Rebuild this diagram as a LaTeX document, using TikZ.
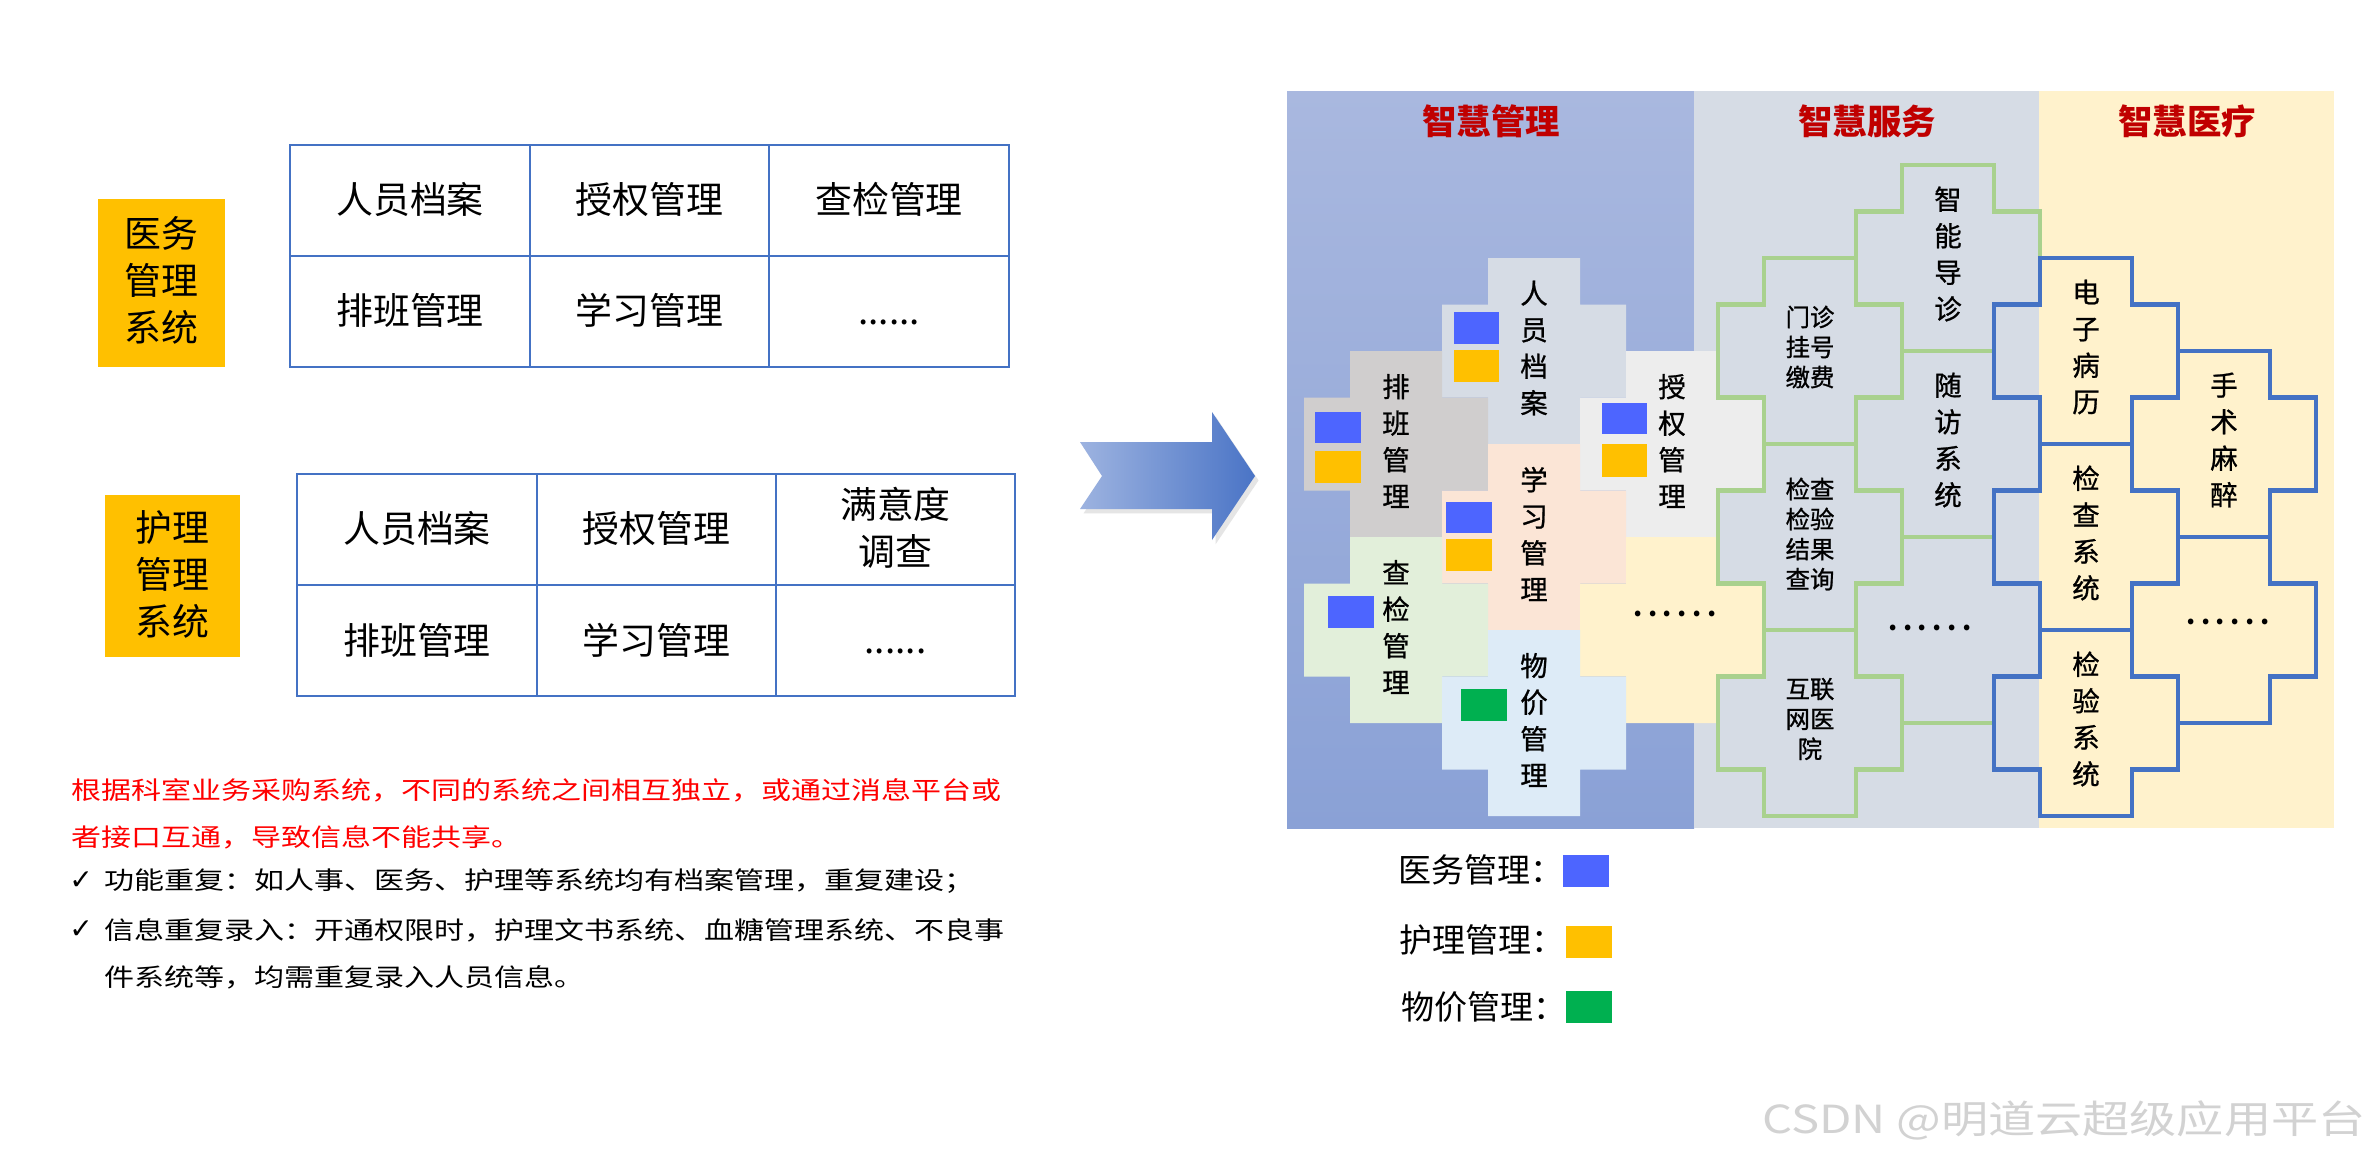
\documentclass[tikz,border=0pt]{standalone}
\usepackage{fontspec}
\setmainfont{Noto Sans CJK SC}
\newfontfamily\cjkw[FakeStretch=1.22]{Noto Sans CJK SC}
\newfontfamily\cjkb[FakeBold=0.9]{Noto Sans CJK SC}
\newfontfamily\symf{DejaVu Sans}
\usetikzlibrary{shadows}
\definecolor{orangebox}{HTML}{FFC000}
\definecolor{tblline}{HTML}{4472C4}
\definecolor{colAtop}{HTML}{A9B8DF}
\definecolor{colAbot}{HTML}{8AA1D6}
\definecolor{colB}{HTML}{D6DCE5}
\definecolor{colC}{HTML}{FFF2CC}
\definecolor{cRY}{HTML}{D6DCE5}
\definecolor{cPB}{HTML}{D0CECE}
\definecolor{cSQ}{HTML}{EDEDED}
\definecolor{cXX}{HTML}{FBE5D6}
\definecolor{cCJ}{HTML}{E2EFDA}
\definecolor{cWJ}{HTML}{DDEBF7}
\definecolor{cDT}{HTML}{FFF2CC}
\definecolor{lnGreen}{HTML}{A9D18E}
\definecolor{lnBlue}{HTML}{4472C4}
\definecolor{icBlue}{HTML}{4D65FF}
\definecolor{icOrange}{HTML}{FFC000}
\definecolor{icGreen}{HTML}{00B050}
\definecolor{headRed}{HTML}{C00000}
\definecolor{arrL}{HTML}{9DB3E0}
\definecolor{arrR}{HTML}{4A74C6}
\definecolor{wmGray}{HTML}{D2D2D2}
\newcommand\plusat[3]{\path[#3,shift={(#1,#2)}] (46,0) -- (138,0) -- (138,46.5) -- (184,46.5) -- (184,139.5) -- (138,139.5) -- (138,186) -- (46,186) -- (46,139.5) -- (0,139.5) -- (0,46.5) -- (46,46.5) -- cycle;}
\newcommand\sixdots{.\kern3.2pt.\kern3.2pt.\kern3.2pt.\kern3.2pt.\kern3.2pt.}
\tikzset{
  boxtext/.style={font=\fontsize{21pt}{26.75pt}\selectfont, align=center, inner sep=0pt},
  tcell/.style={font=\fontsize{21pt}{26.75pt}\selectfont, align=center, inner sep=0pt},
  tbl/.style={draw=tblline, line width=1.1pt},
  para/.style={font=\cjkw\fontsize{14pt}{17pt}\selectfont, anchor=west, inner sep=0pt},
  chk/.style={font=\symf\fontsize{16pt}{18pt}\selectfont, anchor=west, inner sep=0pt},
  head/.style={font=\bfseries\fontsize{19.6pt}{24pt}\selectfont, text=headRed, inner sep=0pt},
  vt/.style={font=\cjkb\fontsize{15.6pt}{20.8pt}\selectfont, align=center, inner sep=0pt},
  vtb/.style={font=\cjkb\fontsize{13.9pt}{17.1pt}\selectfont, align=center, inner sep=0pt},
  dots/.style={font=\bfseries\fontsize{15pt}{18pt}\selectfont, inner sep=0pt},
  greenx/.style={draw=lnGreen, line width=2.8pt},
  bluex/.style={draw=lnBlue, line width=2.8pt},
  leg/.style={font=\fontsize{18.8pt}{22pt}\selectfont, anchor=west, inner sep=0pt},
  wm/.style={font=\cjkw\fontsize{22pt}{26pt}\selectfont, text=wmGray, anchor=east, inner sep=0pt}
}
\begin{document}
\begin{tikzpicture}[x=0.02cm,y=-0.02cm]
\useasboundingbox (0,0) rectangle (2374,1156);
\fill[white] (0,0) rectangle (2374,1156);

% ---------- left: two systems ----------
\fill[orangebox] (98,199) rectangle (225,367);
\node[boxtext] (ywbox) at (161.5,280) {医务\\管理\\系统};
\draw[tbl] (290,145) rectangle (1009,367) (530,145) -- (530,367) (769,145) -- (769,367) (290,256) -- (1009,256);
\node[tcell] (ta1) at (410,199) {人员档案};
\node[tcell] (ta2) at (649.5,199) {授权管理};
\node[tcell] (ta3) at (889,199) {查检管理};
\node[tcell] (ta4) at (410,310) {排班管理};
\node[tcell] (ta5) at (649.5,310) {学习管理};
\node[tcell, anchor=base] (ta6) at (889,324) {......};

\fill[orangebox] (105,495) rectangle (240,657);
\node[boxtext] (hlbox) at (172.5,574) {护理\\管理\\系统};
\draw[tbl] (297,474) rectangle (1015,696) (537,474) -- (537,696) (776,474) -- (776,696) (297,585) -- (1015,585);
\node[tcell] (tb1) at (417,528) {人员档案};
\node[tcell] (tb2) at (656.5,528) {授权管理};
\node[tcell] (tb3) at (895.5,528) {满意度\\调查};
\node[tcell] (tb4) at (417,640) {排班管理};
\node[tcell] (tb5) at (656.5,640) {学习管理};
\node[tcell, anchor=base] (tb6) at (895.5,653) {......};

% ---------- paragraph ----------
\node[para, text=red] (p1) at (71,790) {根据科室业务采购系统，不同的系统之间相互独立，或通过消息平台或};
\node[para, text=red] (p2) at (71,837) {者接口互通，导致信息不能共享。};
\node[chk] (k1) at (69,881) {✓};
\node[para] (p3) at (104,881) {功能重复：如人事、医务、护理等系统均有档案管理，重复建设；};
\node[chk] (k2) at (69,930) {✓};
\node[para] (p4) at (104,930) {信息重复录入：开通权限时，护理文书系统、血糖管理系统、不良事};
\node[para] (p5) at (104,977) {件系统等，均需重复录入人员信息。};

% ---------- arrow ----------
\path[left color=arrL, right color=arrR, drop shadow={shadow xshift=2pt, shadow yshift=-2.5pt, opacity=0.25, fill=black!40}]
  (1080,442) -- (1212,442) -- (1212,412) -- (1255,476) -- (1212,540) -- (1212,509) -- (1080,509) -- (1102,476) -- cycle;

% ---------- right panel backgrounds ----------
\shade[top color=colAtop, bottom color=colAbot] (1287,91) rectangle (1694,828);
\fill[colB] (1694,91) rectangle (2039,828);
\fill[colC] (2039,91) rectangle (2334,828);
\node[head] (h1) at (1491,121) {智慧管理};
\node[head] (h2) at (1867,121) {智慧服务};
\node[head] (h3) at (2187,121) {智慧医疗};

% ---------- column 1 filled crosses ----------
\plusat{1442}{258}{fill=cRY}
\plusat{1304}{351}{fill=cPB}
\plusat{1580}{351}{fill=cSQ}
\plusat{1442}{444}{fill=cXX}
\plusat{1304}{537}{fill=cCJ}
\plusat{1580}{537}{fill=cDT}
\plusat{1442}{630}{fill=cWJ}

% ---------- column 2 green crosses ----------
\plusat{1718}{258}{greenx}
\plusat{1856}{165}{greenx}
\plusat{1856}{351}{greenx}
\plusat{1718}{444}{greenx}
\plusat{1856}{537}{greenx}
\plusat{1718}{630}{greenx}

% ---------- column 3 blue crosses ----------
\plusat{1994}{258}{bluex}
\plusat{2132}{351}{bluex}
\plusat{1994}{444}{bluex}
\plusat{2132}{537}{bluex}
\plusat{1994}{630}{bluex}

% ---------- icons ----------
\fill[icBlue] (1454,312) rectangle (1499,344);
\fill[icOrange] (1454,350) rectangle (1499,382);
\fill[icBlue] (1315,412) rectangle (1361,443);
\fill[icOrange] (1315,451) rectangle (1361,483);
\fill[icBlue] (1602,403) rectangle (1647,434);
\fill[icOrange] (1602,444) rectangle (1647,477);
\fill[icBlue] (1446,502) rectangle (1492,533);
\fill[icOrange] (1446,539) rectangle (1492,571);
\fill[icBlue] (1328,596) rectangle (1374,628);
\fill[icGreen] (1461,689) rectangle (1507,721);

% ---------- cross texts ----------
\node[vt] (ry) at (1534,348) {人\\员\\档\\案};
\node[vt] (pb) at (1396,441) {排\\班\\管\\理};
\node[vt] (sq) at (1672,441) {授\\权\\管\\理};
\node[vt] (xx) at (1534,534) {学\\习\\管\\理};
\node[vt] (cj) at (1396,627) {查\\检\\管\\理};
\node[dots] (d1) at (1675,614) {\sixdots};
\node[vt] (wj) at (1534,720) {物\\价\\管\\理};

\node[vtb] (mz) at (1810,347) {门诊\\挂号\\缴费};
\node[vt] (zn) at (1948,254) {智\\能\\导\\诊};
\node[vt] (sf) at (1948,440) {随\\访\\系\\统};
\node[vtb] (jc) at (1810,534) {检查\\检验\\结果\\查询};
\node[dots] (d2) at (1930,628) {\sixdots};
\node[vtb] (hl) at (1810,719) {互联\\网医\\院};

\node[vt] (dz) at (2086,347) {电\\子\\病\\历};
\node[vt] (ss) at (2224,440) {手\\术\\麻\\醉};
\node[vt] (jcx) at (2086,533) {检\\查\\系\\统};
\node[dots] (d3) at (2228,622) {\sixdots};
\node[vt] (jyx) at (2086,719) {检\\验\\系\\统};

% ---------- legend ----------
\node[leg] (lg1) at (1398,870) {医务管理：};
\fill[icBlue] (1563,855) rectangle (1609,887);
\node[leg] (lg2) at (1399,940) {护理管理：};
\fill[icOrange] (1566,926) rectangle (1612,958);
\node[leg] (lg3) at (1401,1007) {物价管理：};
\fill[icGreen] (1566,991) rectangle (1612,1023);

% ---------- watermark ----------
\node[wm] (wmk) at (2366,1120) {CSDN @明道云超级应用平台};
\end{tikzpicture}
\end{document}
